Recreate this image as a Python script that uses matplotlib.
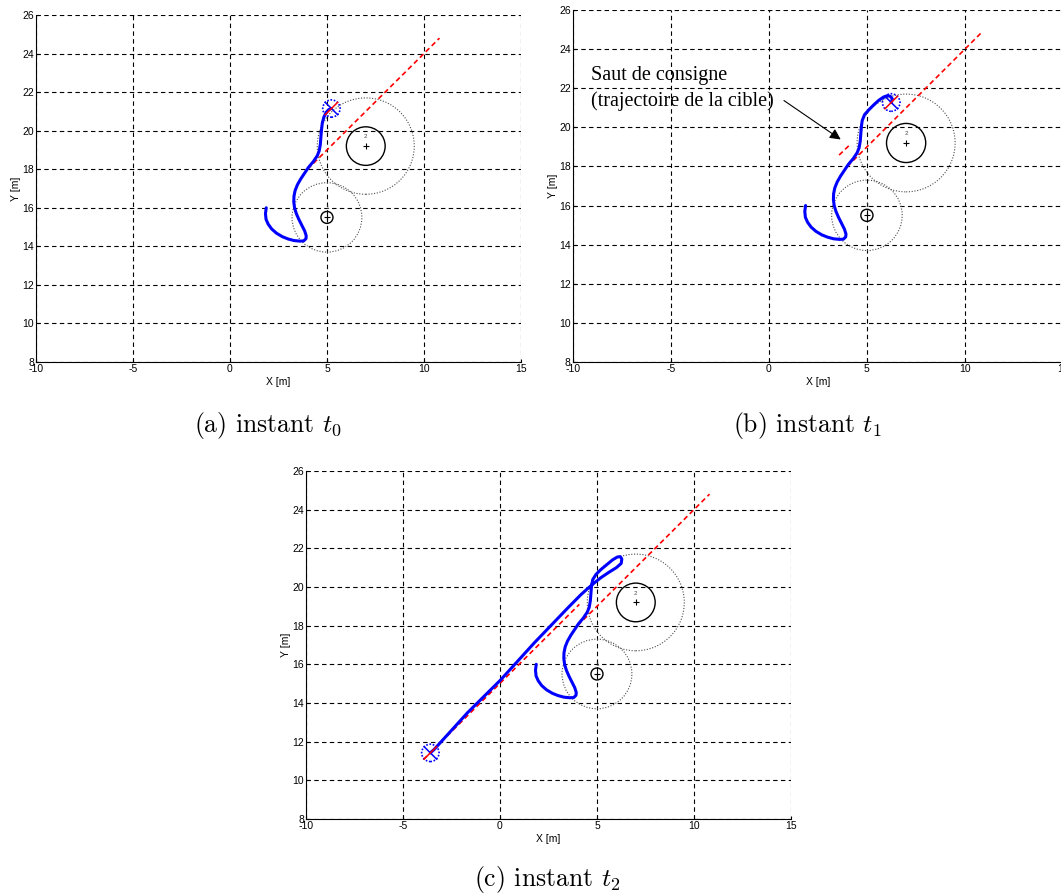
import numpy as np
import matplotlib
matplotlib.use("Agg")
import matplotlib.pyplot as plt
from matplotlib.patches import Circle

plt.rcParams['font.family'] = ['Liberation Sans', 'DejaVu Sans']
plt.rcParams['axes.unicode_minus'] = False
plt.rcParams['mathtext.fontset'] = 'cm'

# obstacles: centre, rayon obstacle, rayon zone d'influence
obs_x = [5.0, 7.0]
obs_y = [15.5, 19.2]
obs_r = [0.31, 1.0]
obs_infl = [1.8, 2.5]
obs_labels = ['1', '2']

# trajectoire de la cible (deux segments, avant / apres saut)
cible_a_x = [4.0, 10.8]
cible_a_y = [18.0, 24.8]
cible_b1_x = [3.58, 4.09]
cible_b1_y = [18.58, 19.07]
cible_b2_x = [-3.95, 4.09]
cible_b2_y = [11.07, 19.1]

# trajectoire du robot (commune aux trois instants)
robot_x = [1.87, 1.83, 1.86, 1.97, 2.15, 2.4, 2.7, 3.0, 3.3, 3.6, 3.8, 3.92, 3.93, 3.85, 3.7,
           3.55, 3.42, 3.33, 3.29, 3.3, 3.36, 3.48, 3.65, 3.85, 4.05, 4.3, 4.5, 4.6, 4.66, 4.69, 4.72]
robot_y = [16.0, 15.7, 15.4, 15.15, 14.9, 14.68, 14.5, 14.38, 14.3, 14.27, 14.28, 14.4, 14.55, 14.8, 15.1,
           15.4, 15.7, 16.0, 16.3, 16.6, 16.9, 17.2, 17.5, 17.8, 18.1, 18.4, 18.7, 18.95, 19.3, 19.7, 20.05]
# suite a t0
suite0_x = [4.72, 4.76, 4.84, 4.96, 5.1, 5.23]
suite0_y = [20.05, 20.4, 20.7, 20.95, 21.1, 21.15]
# suite a t1
suite1_x = [4.72, 4.76, 4.88, 5.1, 5.35, 5.6, 5.85, 6.05, 6.2, 6.3, 6.24]
suite1_y = [20.05, 20.35, 20.65, 20.9, 21.15, 21.38, 21.55, 21.62, 21.58, 21.45, 21.27]
# suite a t2
suite2_x = [4.72, 4.78, 4.95, 5.2, 5.5, 5.8, 6.05, 6.2, 6.28, 6.25, 6.0, 5.6, 5.2, 4.86, 4.5,
            4.17, 3.49, 1.76, 0.04, -1.68, -3.4, -3.59]
suite2_y = [20.05, 20.38, 20.65, 20.9, 21.15, 21.4, 21.55, 21.57, 21.45, 21.22, 21.0, 20.75, 20.48, 20.21, 19.9,
            19.6, 18.91, 17.1, 15.2, 13.49, 11.59, 11.42]

# position du robot a chaque instant
robot_pos_x = [5.23, 6.24, -3.59]
robot_pos_y = [21.15, 21.27, 11.42]

captions = [r'(a) instant $t_0$', r'(b) instant $t_1$', r'(c) instant $t_2$']

fig = plt.figure(figsize=(10.61, 8.94), dpi=100)
positions = [[0.0339, 0.5951, 0.4571, 0.3881],
             [0.540, 0.5951, 0.4618, 0.3937],
             [0.2884, 0.0839, 0.4571, 0.3893]]
caption_pos = [(0.2525, 0.5246), (0.7605, 0.5246), (0.5155, 0.0157)]


def draw_panel(ax, k):
    ax.set_xlim(-10, 15)
    ax.set_ylim(8, 26)
    ax.set_xticks(np.arange(-10, 16, 5))
    ax.set_yticks(np.arange(8, 27, 2))
    ax.grid(True, color='black', linestyle=(0, (4, 3)), linewidth=0.8)
    ax.spines['top'].set_visible(False)
    ax.spines['right'].set_visible(False)
    ax.tick_params(labelsize=7.5, length=2, pad=1.5, direction='in')
    ax.set_xlabel('X [m]', fontsize=7.5, labelpad=2)
    ax.set_ylabel('Y [m]', fontsize=7.5, labelpad=1)

    for i in range(2):
        ax.add_patch(Circle((obs_x[i], obs_y[i]), obs_infl[i], fill=False,
                            ec='0.3', ls=(0, (1, 1.5)), lw=0.8, zorder=3))
        ax.add_patch(Circle((obs_x[i], obs_y[i]), obs_r[i], fill=False,
                            ec='black', lw=1.0, zorder=3))
        ax.plot(obs_x[i], obs_y[i], '+', color='black', ms=5, mew=0.8, zorder=4)
        ly = obs_y[i] + obs_r[i] + 0.05 if i == 0 else obs_y[i] + 0.35
        ax.text(obs_x[i], ly, obs_labels[i], fontsize=4.5, color='0.3',
                ha='center', va='bottom', zorder=4)

    dash = (0, (3, 2))
    ax.plot(cible_a_x, cible_a_y, color='red', ls=dash, lw=1.2, zorder=5)
    if k == 0:
        sx, sy = suite0_x, suite0_y
    elif k == 1:
        ax.plot(cible_b1_x, cible_b1_y, color='red', ls=dash, lw=1.2, zorder=5)
        sx, sy = suite1_x, suite1_y
    else:
        ax.plot(cible_b2_x, cible_b2_y, color='red', ls=dash, lw=1.2, zorder=5)
        sx, sy = suite2_x, suite2_y

    ax.plot(robot_x + sx, robot_y + sy, color='blue', lw=2.2, zorder=6,
            solid_capstyle='round', solid_joinstyle='round')

    # robot
    px, py = robot_pos_x[k], robot_pos_y[k]
    ax.add_patch(Circle((px, py), 0.45, fill=False, ec='blue', ls=(0, (1, 1)), lw=1.2, zorder=7))
    ax.plot([px - 0.32, px + 0.32], [py + 0.32, py - 0.32], color='blue', lw=1.1, zorder=7)
    ax.plot([px - 0.32, px + 0.32], [py - 0.32, py + 0.32], color='red', lw=1.1, zorder=7)


for k in range(3):
    ax = fig.add_axes(positions[k])
    draw_panel(ax, k)
    if k == 1:
        ax.text(-9.1, 22.0, 'Saut de consigne\n(trajectoire de la cible)',
                family='Liberation Serif', fontsize=14.5, va='center', ha='left',
                linespacing=1.4)
        ax.annotate('', xy=(3.78, 19.3), xytext=(0.65, 21.45),
                    arrowprops=dict(arrowstyle='-|>', color='black', lw=0.8,
                                    mutation_scale=16))
    fig.text(caption_pos[k][0], caption_pos[k][1], captions[k], family='cmr10',
             fontsize=18.5, ha='center', va='center')

fig.savefig('out.png', dpi=100)
